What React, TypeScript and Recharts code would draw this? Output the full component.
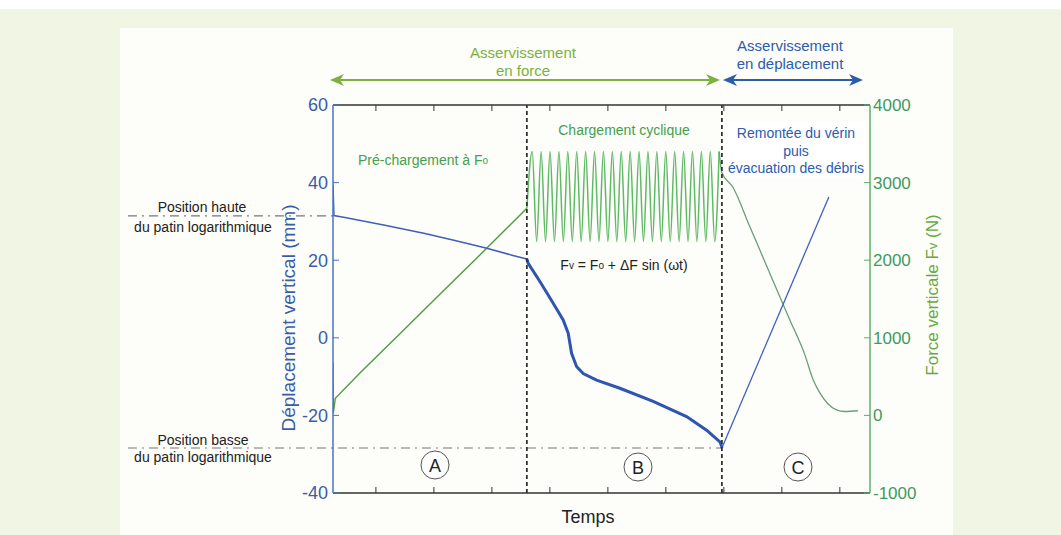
import { LineChart, Line, XAxis, YAxis, ReferenceLine } from 'recharts';

const FONT = '"Liberation Sans", Arial, sans-serif';

// axe du temps (unités arbitraires, pas de graduations chiffrées)
const X_TICKS = [100, 200, 300, 400, 500, 600, 700, 800, 900];
const MM_TICKS = [-40, -20, 0, 20, 40, 60];
const N_TICKS = [-1000, 0, 1000, 2000, 3000, 4000];

// frontières des phases A | B | C
const PHASE_AB = 360.3;
const PHASE_BC = 696.6;

// positions du patin logarithmique (mm)
const POS_HAUTE = 31.4;
const POS_BASSE = -28.4;

// déplacement vertical (mm)
const depA_t = [26, 27.6, 46.6, 115.5, 184.5, 236.2, 287.9, 334.5, 360.3];
const depA_v = [39.4, 31.5, 31.0, 29.0, 26.9, 25.1, 23.2, 21.3, 20.3];

const depB_t = [360.3, 362.6, 382.8, 405.7, 422.9, 431.6, 437.4, 446.0, 457.4, 480.5, 520.7, 578.1, 635.7, 670.2, 693.1, 696.0, 696.6];
const depB_v = [20.3, 19.2, 14.5, 8.9, 4.6, 1.2, -4.0, -7.4, -9.2, -10.9, -13.0, -16.4, -20.3, -23.8, -26.8, -27.9, -28.4];

const depC_t = [696.6, 881.0];
const depC_v = [-28.4, 36.3];

// force verticale (N)
const forA_t = [26, 26.5, 30, 72.4, 141.4, 210.3, 279.3, 360.3];
const forA_v = [680, 30, 220, 545, 1052, 1560, 2068, 2670];

const forB_t = [
  360.3, 369.5, 377.2, 384.9, 392.5, 400.2, 407.9, 415.6, 423.2, 430.9, 438.6, 446.3, 453.9, 461.6, 469.3,
  477.0, 484.6, 492.3, 500.0, 507.7, 515.4, 523.0, 530.7, 538.4, 546.1, 553.7, 561.4, 569.1, 576.8, 584.4,
  592.1, 599.8, 607.5, 615.2, 622.8, 630.5, 638.2, 645.9, 653.5, 661.2, 668.9, 676.6, 684.2, 691.9,
];
const forB_v = [
  2670, 3400, 2240, 3400, 2240, 3400, 2240, 3400, 2240, 3400, 2240, 3400, 2240, 3400, 2240,
  3400, 2240, 3400, 2240, 3400, 2240, 3400, 2240, 3400, 2240, 3400, 2240, 3400, 2240, 3400,
  2240, 3400, 2240, 3400, 2240, 3400, 2240, 3400, 2240, 3400, 2240, 3400, 2240, 3400,
];

const forC_t = [691.9, 696.6, 715.6, 744.9, 779.3, 813.8, 839.7, 853.4, 865.5, 879.3, 893.1, 908.6, 931.0];
const forC_v = [3400, 3130, 2940, 2430, 1830, 1230, 780, 470, 290, 150, 75, 50, 60];

const pts = (ts: number[], vs: number[]) => ts.map((t, i) => ({ t, v: vs[i] }));

const BLUE_AXIS = '#3b5ca8';
const GREEN_AXIS = '#3d9a62';

function Circled({ x, y, letter }: { x: number; y: number; letter: string }) {
  return (
    <g>
      <circle cx={x} cy={y} r={14} fill="#fff" stroke="#555" strokeWidth={1} />
      <text x={x} y={y + 1} textAnchor="middle" dominantBaseline="central" fontSize={18} fill="#222">{letter}</text>
    </g>
  );
}

function Overlay() {
  const green = '#7cb041';
  const blue = '#2c5cab';
  return (
    <svg width={1061} height={535} style={{ position: 'absolute', left: 0, top: 0, pointerEvents: 'none' }} fontFamily={FONT}>
      {/* bandeaux d'asservissement */}
      <text x={523} y={52} textAnchor="middle" dominantBaseline="central" fontSize={15} fill={green}>Asservissement</text>
      <text x={523} y={70} textAnchor="middle" dominantBaseline="central" fontSize={15} fill={green}>en force</text>
      <line x1={336} y1={80} x2={714} y2={80} stroke={green} strokeWidth={2} />
      <polygon points="330,80 344,74 340,80 344,86" fill={green} />
      <polygon points="720,80 706,74 710,80 706,86" fill={green} />

      <text x={790} y={45} textAnchor="middle" dominantBaseline="central" fontSize={15} fill={blue}>Asservissement</text>
      <text x={790} y={63} textAnchor="middle" dominantBaseline="central" fontSize={15} fill={blue}>en déplacement</text>
      <line x1={729} y1={80} x2={857} y2={80} stroke={blue} strokeWidth={2} />
      <polygon points="723,80 737,74 733,80 737,86" fill={blue} />
      <polygon points="863,80 849,74 853,80 849,86" fill={blue} />

      {/* titres d'axes */}
      <text transform="translate(288,318) rotate(-90)" textAnchor="middle" dominantBaseline="central" fontSize={19} fill={BLUE_AXIS}>Déplacement vertical (mm)</text>
      <text transform="translate(932,295) rotate(-90)" textAnchor="middle" dominantBaseline="central" fontSize={17} fill="#6aa843">
        Force verticale F<tspan fontSize={13}>v</tspan> (N)
      </text>
      <text x={588} y={517} textAnchor="middle" dominantBaseline="central" fontSize={18} fill="#222">Temps</text>

      {/* positions du patin */}
      <text x={202} y={207} textAnchor="middle" dominantBaseline="central" fontSize={14} fill="#222">Position haute</text>
      <text x={203} y={227} textAnchor="middle" dominantBaseline="central" fontSize={14} fill="#222">du patin logarithmique</text>
      <text x={203} y={440} textAnchor="middle" dominantBaseline="central" fontSize={14} fill="#222">Position basse</text>
      <text x={203} y={457} textAnchor="middle" dominantBaseline="central" fontSize={14} fill="#222">du patin logarithmique</text>

      {/* annotations des phases */}
      <text x={423} y={160} textAnchor="middle" dominantBaseline="central" fontSize={14} fill="#43a04e">
        Pré-chargement à F<tspan fontSize={10}>o</tspan>
      </text>
      <text x={624} y={130} textAnchor="middle" dominantBaseline="central" fontSize={14} fill="#43a04e">Chargement cyclique</text>
      <text x={624} y={265} textAnchor="middle" dominantBaseline="central" fontSize={14} fill="#222">
        F<tspan fontSize={10}>v</tspan> = F<tspan fontSize={10}>o</tspan> + ΔF sin (ωt)
      </text>
      <rect x={726} y={122} width={140} height={56} fill="#fff" />
      <text x={796} y={133} textAnchor="middle" dominantBaseline="central" fontSize={14} fill={blue}>Remontée du vérin</text>
      <text x={796} y={151} textAnchor="middle" dominantBaseline="central" fontSize={14} fill={blue}>puis</text>
      <text x={796} y={168} textAnchor="middle" dominantBaseline="central" fontSize={14} fill={blue}>évacuation des débris</text>

      <Circled x={435} y={465} letter="A" />
      <Circled x={638} y={467} letter="B" />
      <Circled x={798} y={467} letter="C" />
    </svg>
  );
}

export default function App() {
  return (
    <div style={{ position: 'fixed', left: 0, top: 0, width: 1061, height: 535, background: '#f1f5e4', overflow: 'hidden', fontFamily: FONT }}>
      <div style={{ position: 'absolute', left: 0, top: 0, width: 1061, height: 9, background: '#fff' }} />
      <div style={{ position: 'absolute', left: 120, top: 28, width: 833, height: 507, background: '#fdfdf9' }} />
      <div style={{ position: 'absolute', left: 0, top: 0 }}>
        <LineChart width={1061} height={535} margin={{ top: 85, right: 141, bottom: 22, left: 283 }}>
          <XAxis
            type="number" dataKey="t" domain={[26, 952]} ticks={X_TICKS} allowDataOverflow
            height={20} tickSize={-6} tickFormatter={() => ''}
            axisLine={{ stroke: '#333', strokeWidth: 1.5 }} tickLine={{ stroke: '#333' }}
          />
          <XAxis
            xAxisId="top" orientation="top" type="number" dataKey="t" domain={[26, 952]} ticks={X_TICKS} allowDataOverflow
            height={20} tickSize={-6} tickFormatter={() => ''}
            axisLine={{ stroke: '#333', strokeWidth: 1.5 }} tickLine={{ stroke: '#333' }}
          />
          <YAxis
            yAxisId="mm" type="number" domain={[-40, 60]} ticks={MM_TICKS} width={50}
            tickSize={-6} tickMargin={11}
            axisLine={{ stroke: '#4a72c0', strokeWidth: 1.5 }} tickLine={{ stroke: '#4a72c0' }}
            tick={{ fill: BLUE_AXIS, fontSize: 18, fontFamily: FONT }}
          />
          <YAxis
            yAxisId="N" orientation="right" type="number" domain={[-1000, 4000]} ticks={N_TICKS} width={50}
            tickSize={-6} tickMargin={9}
            axisLine={{ stroke: '#5cb06a', strokeWidth: 1.5 }} tickLine={{ stroke: '#5cb06a' }}
            tick={{ fill: GREEN_AXIS, fontSize: 17, fontFamily: FONT, textAnchor: 'start' }}
          />

          <ReferenceLine yAxisId="mm" segment={[{ x: -327.6, y: POS_HAUTE }, { x: 26, y: POS_HAUTE }]} ifOverflow="visible" stroke="#777" strokeDasharray="9 5 2 5" strokeWidth={1.2} />
          <ReferenceLine yAxisId="mm" segment={[{ x: -327.6, y: POS_BASSE }, { x: PHASE_BC, y: POS_BASSE }]} ifOverflow="visible" stroke="#777" strokeDasharray="9 5 2 5" strokeWidth={1.2} />

          <Line data={pts(forA_t, forA_v)} dataKey="v" yAxisId="N" type="linear" stroke="#4f9c3e" strokeWidth={1.4} dot={false} isAnimationActive={false} />
          <Line data={pts(forB_t, forB_v)} dataKey="v" yAxisId="N" type="monotone" stroke="#5fba67" strokeWidth={1.5} dot={false} isAnimationActive={false} />
          <Line data={pts(forC_t, forC_v)} dataKey="v" yAxisId="N" type="monotone" stroke="#6a9e78" strokeWidth={1.3} dot={false} isAnimationActive={false} />

          <Line data={pts(depA_t, depA_v)} dataKey="v" yAxisId="mm" type="linear" stroke="#3f5fb8" strokeWidth={1.5} dot={false} isAnimationActive={false} />
          <Line data={pts(depB_t, depB_v)} dataKey="v" yAxisId="mm" type="linear" stroke="#2f55b0" strokeWidth={3} dot={false} isAnimationActive={false} />
          <Line data={pts(depC_t, depC_v)} dataKey="v" yAxisId="mm" type="linear" stroke="#4060c0" strokeWidth={1.3} dot={false} isAnimationActive={false} />

          <ReferenceLine yAxisId="mm" x={PHASE_AB} stroke="#333" strokeDasharray="4 3" strokeWidth={1.8} />
          <ReferenceLine yAxisId="mm" x={PHASE_BC} stroke="#333" strokeDasharray="4 3" strokeWidth={1.8} />
        </LineChart>
      </div>
      <Overlay />
    </div>
  );
}
